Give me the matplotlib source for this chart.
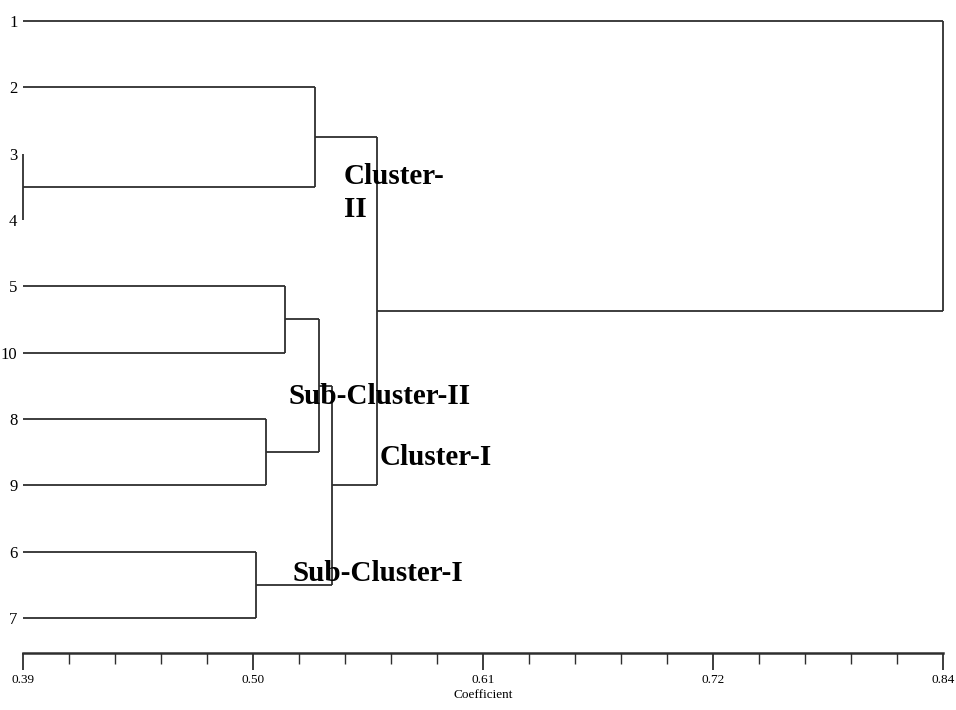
import numpy as np
import matplotlib.pyplot as plt

# leaf order from top to bottom
leaves = ['1', '2', '3', '4', '5', '10', '8', '9', '6', '7']

# merges: (left cluster, right cluster, coefficient)
merges = [
    ('3', '4', 0.390),
    ('6', '7', 0.504),
    ('8', '9', 0.509),
    ('5', '10', 0.518),
    ('2', '3+4', 0.533),
    ('5+10', '8+9', 0.535),
    ('5+10+8+9', '6+7', 0.541),
    ('2+3+4', '5+10+8+9+6+7', 0.563),
    ('1', '2+3+4+5+10+8+9+6+7', 0.840),
]

tick_vals = np.linspace(0.39, 0.84, 5)
tick_labels = ['0.39', '0.50', '0.61', '0.72', '0.84']

# annotations: (text, x, y baseline)
notes = [
    ('Cluster-', 0.5469, 2.45),
    ('II', 0.5469, 2.95),
    ('Sub-Cluster-II', 0.520, 5.77),
    ('Cluster-I', 0.5645, 6.69),
    ('Sub-Cluster-I', 0.522, 8.44),
]

fig = plt.figure(figsize=(9.56, 7.10), dpi=100)
ax = fig.add_axes([23 / 956, 1 - 653 / 710, 920 / 956, 653 / 710])

lc = '#2e2e2e'
lw = 1.3
xmin = 0.39

# position of each cluster: (x, y)
pos = {name: (xmin, i) for i, name in enumerate(leaves)}
for a, b, h in merges:
    xa, ya = pos[a]
    xb, yb = pos[b]
    ax.plot([xa, h], [ya, ya], color=lc, lw=lw, solid_capstyle='butt', clip_on=False)
    ax.plot([xb, h], [yb, yb], color=lc, lw=lw, solid_capstyle='butt', clip_on=False)
    ax.plot([h, h], [ya, yb], color=lc, lw=lw, solid_capstyle='butt', clip_on=False)
    pos[a + '+' + b] = (h, (ya + yb) / 2)

for txt, x, y in notes:
    ax.text(x, y, txt, fontsize=21, fontweight='bold', family='Liberation Serif',
            va='baseline', ha='left')

ax.set_xlim(0.39, 0.84)
ax.set_ylim(9.528, -0.3166)

ax.set_yticks(range(len(leaves)))
ax.set_yticklabels(leaves, family='Liberation Serif', fontsize=12)
ax.tick_params(axis='y', length=0, pad=4)

ax.set_xticks(tick_vals)
ax.set_xticklabels(tick_labels, family='Liberation Serif', fontsize=9.5)
ax.set_xticks(np.linspace(0.39, 0.84, 21), minor=True)
ax.tick_params(axis='x', which='major', length=12, width=1.3, color=lc, pad=3)
ax.tick_params(axis='x', which='minor', length=8, width=1.0, color=lc)
ax.set_xlabel('Coefficient', family='Liberation Serif', fontsize=9.5, labelpad=2)

for s in ['top', 'right', 'left']:
    ax.spines[s].set_visible(False)
ax.spines['bottom'].set_linewidth(1.8)
ax.spines['bottom'].set_color(lc)

plt.savefig('out.png', dpi=100)
